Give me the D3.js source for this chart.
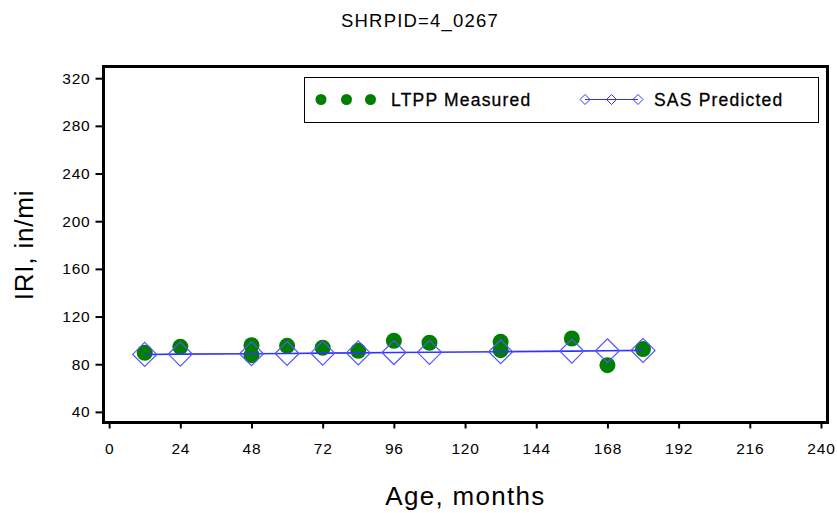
<!DOCTYPE html>
<html><head><meta charset="utf-8">
<script src="https://cdn.jsdelivr.net/npm/d3@7"></script>
<style>body{margin:0;background:#fff}svg text{font-family:"Liberation Sans",Arial,sans-serif;fill:#000}</style>
</head><body><div id="c"></div>
<script>
const title = "SHRPID=4_0267";
const measuredAge = [12, 24, 48, 48, 60, 72, 84, 96, 108, 132, 132, 156, 168, 180];
const measuredIRI = [89.6, 94.6, 96, 87.6, 95.4, 93.8, 91.2, 99.6, 98, 98.8, 91.8, 101.6, 79.2, 92.7];
const predictedAge = [12, 24, 48, 60, 72, 84, 96, 108, 132, 156, 168, 180];
const predictedIRI = [88.2, 88.5, 88.8, 89.0, 89.3, 89.5, 89.8, 90.0, 90.5, 91.0, 91.3, 91.6];
const xTicks = [0, 24, 48, 72, 96, 120, 144, 168, 192, 216, 240];
const yTicks = [40, 80, 120, 160, 200, 240, 280, 320];
const legendLabels = ["LTPP Measured", "SAS Predicted"];

const W = 837, H = 513;
const L = 103.5, R = 827.5, T = 66.5, B = 422.5;
const svg = d3.select("#c").append("svg").attr("width", W).attr("height", H);
const x = d3.scaleLinear().domain([-1.9, 242.2]).range([L, R]);
const y = d3.scaleLinear().domain([31.1, 329.8]).range([B, T]);

svg.append("text").attr("x", 420).attr("y", 26.5).attr("text-anchor", "middle")
  .attr("font-size", 18.5).attr("letter-spacing", 1.2).text(title);

const xAxis = svg.append("g").attr("transform", `translate(0,${B})`)
  .call(d3.axisBottom(x).tickValues(xTicks).tickSize(6).tickPadding(14));
const yAxis = svg.append("g").attr("transform", `translate(${L},0)`)
  .call(d3.axisLeft(y).tickValues(yTicks).tickSize(8).tickPadding(5));
[xAxis, yAxis].forEach(a => {
  a.select(".domain").remove();
  a.selectAll(".tick line").attr("stroke", "#000").attr("stroke-width", 2);
  a.selectAll(".tick text").attr("font-size", 15.5).attr("fill", "#333").attr("letter-spacing", 0.8)
    .style("font-family", '"Liberation Sans",Arial,sans-serif');
});
svg.append("rect").attr("x", L).attr("y", T).attr("width", R - L).attr("height", B - T)
  .attr("fill", "none").attr("stroke", "#000").attr("stroke-width", 3);

svg.append("text").attr("x", 465.5).attr("y", 505).attr("text-anchor", "middle")
  .attr("font-size", 26).attr("letter-spacing", 1.3).text("Age, months");
svg.append("text").attr("transform", "translate(33,245) rotate(-90)").attr("text-anchor", "middle")
  .attr("font-size", 26).attr("letter-spacing", 0.8).text("IRI, in/mi");

const green = "#007f00", blue = "#3333ff";
const plot = svg.append("g");
const pred = predictedAge.map((a, i) => ({a, v: predictedIRI[i]}));
const meas = measuredAge.map((a, i) => ({a, v: measuredIRI[i]}));

plot.selectAll("circle.m").data(meas).join("circle").attr("class", "m")
  .attr("cx", d => x(d.a)).attr("cy", d => y(d.v)).attr("r", 8).attr("fill", green);

plot.append("path").datum(pred)
  .attr("d", d3.line().x(d => x(d.a)).y(d => y(d.v)))
  .attr("fill", "none").attr("stroke", blue).attr("stroke-width", 1.6);
const diamond = s => `M0,${-s}L${s},0L0,${s}L${-s},0Z`;
plot.selectAll("path.p").data(pred).join("path").attr("class", "p")
  .attr("transform", d => `translate(${x(d.a)},${y(d.v)})`)
  .attr("d", diamond(12)).attr("fill", "none").attr("stroke", "#5555ff").attr("stroke-width", 1.2);

// legend
const lg = svg.append("g");
lg.append("rect").attr("x", 304.5).attr("y", 77.5).attr("width", 514).attr("height", 45)
  .attr("fill", "#fff").attr("stroke", "#000").attr("stroke-width", 1);
const ly = 99.5;
[321, 346.5, 370.5].forEach(cx => lg.append("circle").attr("cx", cx).attr("cy", ly).attr("r", 5.5).attr("fill", green));
lg.append("text").attr("x", 391).attr("y", ly + 6).attr("font-size", 17.5).attr("letter-spacing", 1.2)
  .attr("stroke", "#000").attr("stroke-width", 0.3).text(legendLabels[0]);
[585, 611.5, 638].forEach(cx => lg.append("path").attr("transform", `translate(${cx},${ly})`)
  .attr("d", diamond(5)).attr("fill", "none").attr("stroke", blue).attr("stroke-width", 1));
lg.append("line").attr("x1", 585).attr("x2", 638).attr("y1", ly).attr("y2", ly).attr("stroke", blue).attr("stroke-width", 1.2);
lg.append("text").attr("x", 654).attr("y", ly + 6).attr("font-size", 17.5).attr("letter-spacing", 1.2)
  .attr("stroke", "#000").attr("stroke-width", 0.3).text(legendLabels[1]);
</script></body></html>
